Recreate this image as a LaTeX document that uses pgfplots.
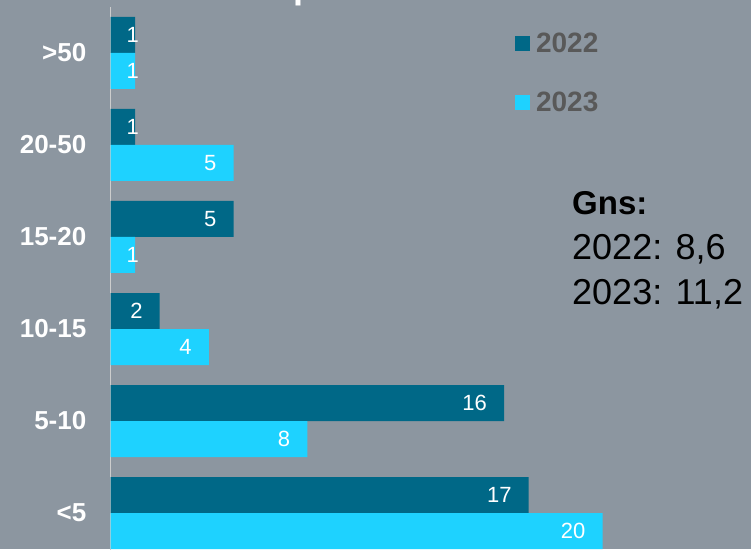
\documentclass[border=0pt]{standalone}
\usepackage{fontspec}
\setmainfont{Liberation Sans}
\usepackage{pgfplots}
\pgfplotsset{compat=1.18}
\definecolor{bg}{RGB}{140,150,160}
\definecolor{dark}{RGB}{0,104,135}
\definecolor{light}{RGB}{30,210,255}
\definecolor{leg}{RGB}{89,89,89}
\definecolor{axisline}{RGB}{205,205,205}
\begin{document}
\begin{tikzpicture}
\fill[bg] (0pt,0pt) rectangle (751pt,549pt);
\begin{scope}
\clip (0pt,0pt) rectangle (751pt,549pt);
\node[anchor=base west, inner sep=0pt, text=white, font=\bfseries\fontsize{36}{40}\selectfont] at (293pt,550.5pt) {p};
\begin{axis}[
  at={(110.5pt,-10pt)}, anchor=south west,
  scale only axis, width=639.6pt, height=552pt,
  xmin=0, xmax=26, ymin=-0.5, ymax=5.5,
  xbar, bar width=36pt,
  axis x line=none, axis y line*=left,
  y axis line style={-, draw=axisline, line width=1.75pt},
  ytick={0,1,2,3,4,5}, yticklabels={<5,5-10,10-15,15-20,20-50,>50},
  major tick length=0pt,
  yticklabel style={anchor=east, inner sep=0pt, xshift=-24pt, text=white, font=\bfseries\fontsize{26}{30}\selectfont},
  point meta=x,
  nodes near coords,
  visualization depends on={rawx \as \rawx},
  nodes near coords style={anchor=east, inner sep=0pt, text=white, font=\fontsize{22}{24}\selectfont, xshift={ifthenelse(\rawx<1.5,4,-17)}},
  /pgf/number format/assume math mode=true,
  legend style={draw=none, fill=none, at={(axis description cs:0.6325,0.953)}, anchor=north west, inner sep=0pt, outer sep=0pt, row sep=38pt, column sep=6pt, font=\bfseries\fontsize{28}{30}\selectfont, text=leg, nodes={inner sep=0pt}},
  legend cell align=left,
]
\addplot[fill=dark, draw=none, bar shift=18pt, legend image code/.code={\fill[dark] (0pt,-7.5pt) rectangle (15pt,7.5pt);}] coordinates {(17,0) (16,1) (2,2) (5,3) (1,4) (1,5)};
\addplot[fill=light, draw=none, bar shift=-18pt, legend image code/.code={\fill[light] (0pt,-7.5pt) rectangle (15pt,7.5pt);}] coordinates {(20,0) (8,1) (4,2) (1,3) (5,4) (1,5)};
\legend{2022,2023}
\end{axis}
\node[anchor=base west, inner sep=0pt, font=\bfseries\fontsize{33}{36}\selectfont] at (572pt,334pt) {Gns:};
\node[anchor=base west, inner sep=0pt, font=\fontsize{36}{40}\selectfont] at (572pt,289pt) {2022: 8,6};
\node[anchor=base west, inner sep=0pt, font=\fontsize{36}{40}\selectfont] at (572pt,244pt) {2023: 11,2};
\end{scope}
\pgfresetboundingbox
\useasboundingbox (0pt,0pt) rectangle (751pt,549pt);
\end{tikzpicture}
\end{document}
